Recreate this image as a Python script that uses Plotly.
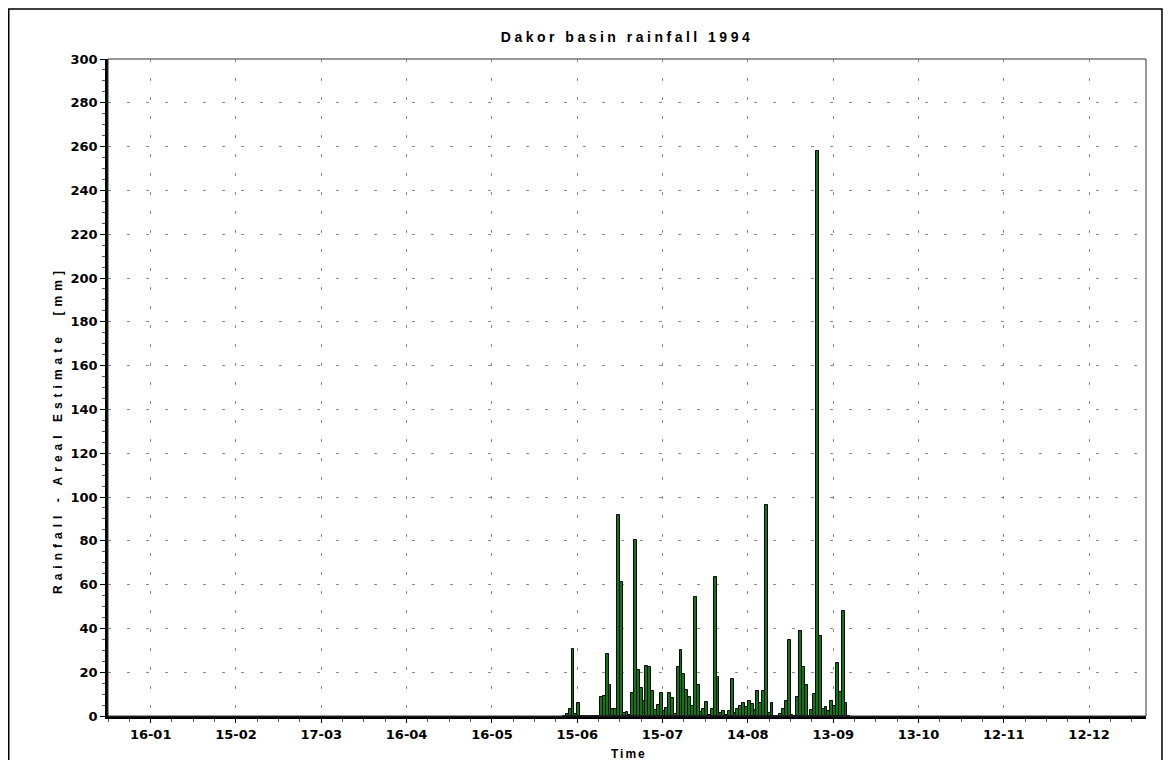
import pandas as pd
import plotly.graph_objects as go

# Daily areal rainfall [mm], consecutive days starting 1994-06-10
start_date = "1994-06-10"
rain_mm = [
    0, 1, 3.3, 30.5, 1, 5.8, 0, 0, 0, 0, 0, 0, 0,          # Jun 10 - Jun 22
    8.5, 9.1, 28.3, 14.2, 3.3, 3.3, 92, 61,               # Jun 23 - Jun 30
    1.5, 2, 0.5, 10.7, 80.5, 21, 12.6, 7, 23, 22.2,        # Jul 1 - Jul 10
    11.6, 2.7, 4.9, 10.7, 2.4, 3.7, 10.7, 8, 1, 22.5,      # Jul 11 - Jul 20
    30, 19, 12, 8.8, 4.6, 54.5, 14, 1.7, 3, 6.4, 0.5,      # Jul 21 - Jul 31
    3.2, 63.3, 18, 1.2, 2.4, 0.5, 2.1, 17, 1.5, 3.2,       # Aug 1 - Aug 10
    4.6, 5.8, 4, 6.7, 5.5, 2.7, 11.6, 5.8, 11.6, 96.5,     # Aug 11 - Aug 20
    1.5, 5.8, 0, 0, 1, 3.3, 6.7, 34.7, 0.5, 0, 8.5,        # Aug 21 - Aug 31
    38.9, 22.5, 14, 0, 2.7, 10, 258, 36.5, 3, 4,           # Sep 1 - Sep 10
    2.1, 6.7, 4.7, 24.4, 11, 48, 5.8, 0,                   # Sep 11 - Sep 18
]
dates = pd.date_range(start_date, periods=len(rain_mm), freq="D")

x_range = ["1994-01-01", "1995-01-01"]
x_tick0 = "1994-01-16"
DAY_MS = 86400000

title_text = "Dakor basin rainfall 1994"
y_title = "Rainfall - Areal Estimate\u00a0\u00a0[mm]"
x_title = "Time"

FONT = "Liberation Sans, Arial, sans-serif"
TICKFONT = "DejaVu Sans, Verdana, sans-serif"
# figure coordinates (page has an 8px body margin)
W, H = 1157, 752
L, R, T, B = 100, 1138, 51, 708
pw, ph = R - L, B - T


def spaced(txt, px):
    return f'<span style="letter-spacing:{px}px">{txt}</span>'


fig = go.Figure()
fig.add_trace(go.Bar(
    x=dates, y=rain_mm,
    xperiod=DAY_MS, xperiodalignment="middle",
    marker=dict(color="#0a7a0a", line=dict(color="#000000", width=1)),
    showlegend=False,
))

grid = dict(gridcolor="#8c8c8c", gridwidth=1, griddash="3px,16px")

fig.update_layout(
    width=W, height=H,
    margin=dict(l=L, r=W - R, t=T, b=H - B, autoexpand=False),
    paper_bgcolor="white", plot_bgcolor="white",
    bargap=0,
    font=dict(family=FONT, color="black"),
    title=dict(text=spaced(title_text, 3.5), x=(L + R) / 2 / W, xanchor="center",
               y=1 - 29 / H, yanchor="middle", yref="container",
               font=dict(size=14, weight="bold", family=FONT, color="black")),
    xaxis=dict(
        type="date", range=x_range,
        tick0=x_tick0, dtick=30 * DAY_MS, tickformat="%d-%m",
        ticks="outside", ticklen=4, tickcolor="black", tickwidth=1,
        tickfont=dict(size=13, weight="bold", family=TICKFONT),
        showline=True, linecolor="black", linewidth=3,
        showgrid=True, **grid,
        minor=dict(tick0=x_tick0, dtick=7.5 * DAY_MS, ticks="outside",
                   ticklen=3, tickcolor="#555555", showgrid=False),
        zeroline=False, automargin=False,
    ),
    yaxis=dict(
        range=[0, 300], tick0=0, dtick=20,
        ticks="outside", ticklen=5, tickcolor="black", tickwidth=1,
        tickfont=dict(size=13, weight="bold", family=TICKFONT),
        showline=True, linecolor="black", linewidth=2.5,
        showgrid=True, **grid,
        minor=dict(dtick=5, ticks="outside", ticklen=3, tickcolor="#555555",
                   showgrid=False),
        zeroline=False, automargin=False,
    ),
    annotations=[
        dict(text=spaced(y_title, 5), textangle=-90, showarrow=False,
             xref="paper", yref="paper",
             x=(50 - L) / pw, y=(B - 422) / ph, xanchor="center", yanchor="middle",
             font=dict(size=12, weight="bold", family=FONT, color="black")),
        dict(text=spaced(x_title, 2), showarrow=False,
             xref="paper", yref="paper",
             x=(621 - L) / pw, y=(B - 746) / ph, xanchor="center", yanchor="middle",
             font=dict(size=12, weight="bold", family=FONT, color="black")),
    ],
)

# plot area frame (top/right thin border)
fig.add_shape(type="rect", xref="paper", yref="paper", x0=0, x1=1, y0=0, y1=1,
              line=dict(color="#333333", width=1), layer="above")
# outer chart frame
fig.add_shape(type="rect", xref="paper", yref="paper",
              x0=(0.75 - L) / pw, x1=(1154 - L) / pw,
              y0=(B - 800) / ph, y1=(B - 1) / ph,
              line=dict(color="black", width=1.5), layer="above")

fig.write_html("out.html",
               post_script="document.documentElement.style.overflow='hidden';"
                           "document.body.style.overflow='hidden';")
